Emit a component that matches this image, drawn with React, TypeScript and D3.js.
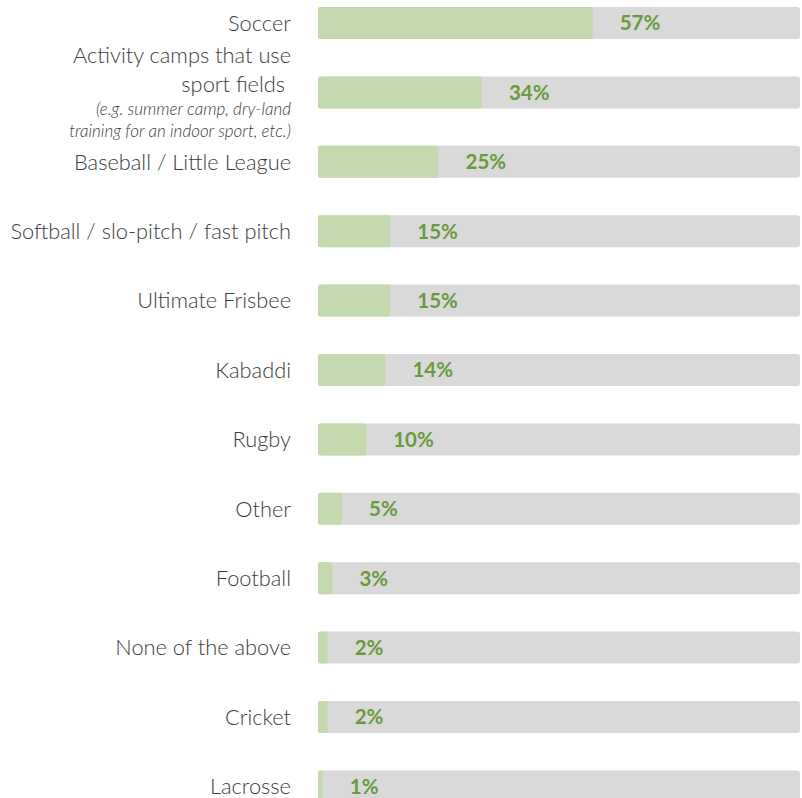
import { useEffect, useRef } from 'react';
import * as d3 from 'd3';

const categories = [
  'Soccer',
  'Activity camps that use sport fields',
  'Baseball / Little League',
  'Softball / slo-pitch / fast pitch',
  'Ultimate Frisbee',
  'Kabaddi',
  'Rugby',
  'Other',
  'Football',
  'None of the above',
  'Cricket',
  'Lacrosse',
];
const values = [57, 34, 25, 15, 15, 14, 10, 5, 3, 2, 2, 1];

// multi-line label for the camps row
const campLines = ['Activity camps that use', 'sport fields '];
const campNotes = ['(e.g. summer camp, dry-land', 'training for an indoor sport, etc.)'];

const W = 802;
const H = 798;

export default function App() {
  const svgRef = useRef<SVGSVGElement>(null);

  useEffect(() => {
    const svg = d3.select(svgRef.current);
    svg.selectAll('*').remove();

    const bh = 32;
    const step = 69.4;
    const x = d3.scaleLinear().domain([0, 100]).range([318, 800]);
    const y = d3.scaleBand().domain(categories)
      .range([7, 7 + step * (categories.length - 1) + bh])
      .paddingInner((step - bh) / step).paddingOuter(0);

    const rows = svg.selectAll('g.row').data(categories).join('g').attr('class', 'row')
      .attr('transform', (d) => `translate(0,${y(d)!})`);

    rows.append('rect')
      .attr('x', x(0)).attr('width', x(100) - x(0))
      .attr('y', 0).attr('height', y.bandwidth()).attr('rx', 3)
      .attr('fill', '#d9d9d9');

    rows.append('rect')
      .attr('x', x(0)).attr('width', (_, i) => x(values[i]) - x(0))
      .attr('y', 0).attr('height', y.bandwidth()).attr('rx', 2)
      .attr('fill', '#c5d9ae');

    rows.append('text')
      .attr('x', (_, i) => x(values[i]) + 27)
      .attr('y', bh / 2).attr('dy', '0.36em')
      .attr('font-family', 'Lato, "Open Sans", sans-serif').attr('font-weight', 700)
      .attr('font-size', 20.5).attr('fill', '#6a9a3c')
      .text((_, i) => `${values[i]}%`);

    const labelFont = 'Lato, "Open Sans", sans-serif';
    rows.each(function (d) {
      const g = d3.select(this);
      if (d === categories[1]) {
        campLines.forEach((t, j) => {
          g.append('text')
            .attr('x', 291).attr('y', -21 + j * 29).attr('dy', '0.36em')
            .attr('text-anchor', 'end').attr('font-family', labelFont).attr('font-weight', 300)
            .attr('font-size', 21.8).attr('fill', '#3c3c3c').attr('xml:space', 'preserve')
            .text(t);
        });
        campNotes.forEach((t, j) => {
          g.append('text')
            .attr('x', 291).attr('y', 32 + j * 22).attr('dy', '0.36em')
            .attr('text-anchor', 'end').attr('font-family', labelFont).attr('font-weight', 300)
            .attr('font-style', 'italic')
            .attr('font-size', 17).attr('fill', '#3c3c3c')
            .text(t);
        });
      } else {
        g.append('text')
          .attr('x', 291).attr('y', bh / 2).attr('dy', '0.36em')
          .attr('text-anchor', 'end').attr('font-family', labelFont).attr('font-weight', 300)
          .attr('font-size', 21.8).attr('fill', '#3c3c3c')
          .text(d);
      }
    });
  }, []);

  return (
    <svg ref={svgRef} width={W} height={H} viewBox={`0 0 ${W} ${H}`}
      style={{ position: 'absolute', left: 0, top: 0, background: '#fff' }} />
  );
}
